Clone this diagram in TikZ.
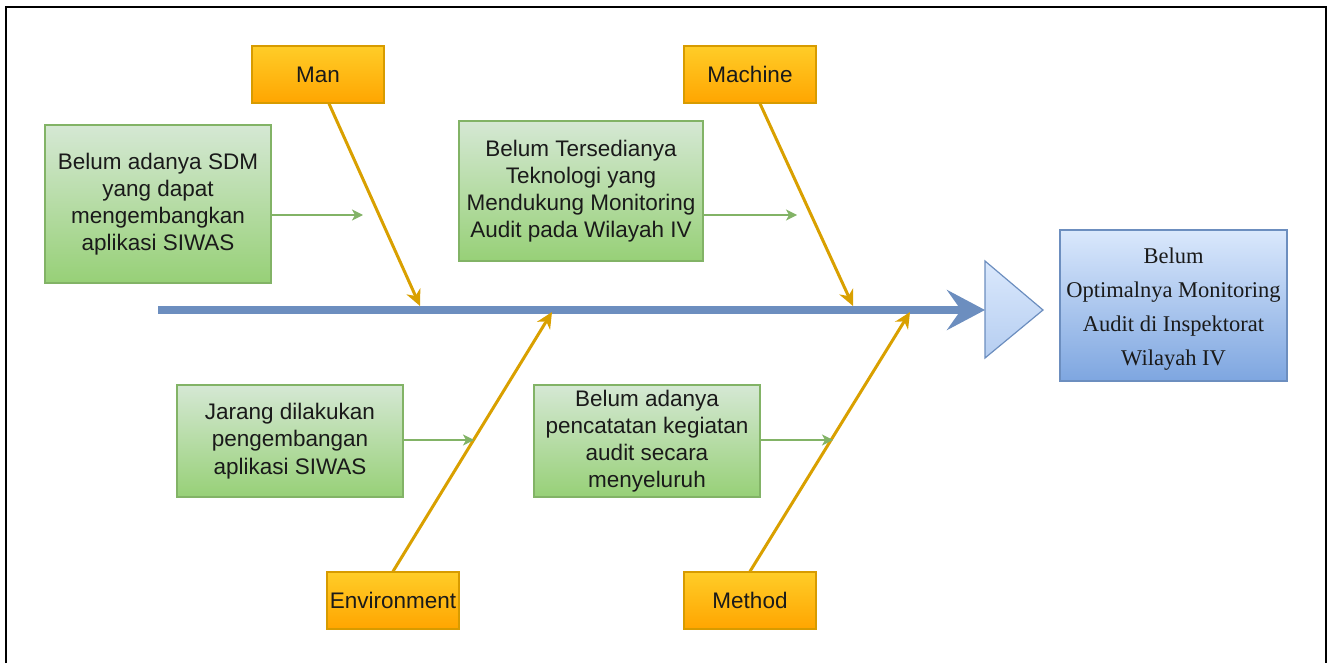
\documentclass[tikz,border=0pt]{standalone}
\usepackage{fontspec}
\setmainfont{Liberation Sans}
\newfontfamily\resultfont{Liberation Serif}
\usetikzlibrary{arrows.meta}
\definecolor{catTop}{HTML}{FFCD28}
\definecolor{catBot}{HTML}{FFA500}
\definecolor{catBorder}{HTML}{D79B00}
\definecolor{gTop}{HTML}{D5E8D4}
\definecolor{gBot}{HTML}{97D077}
\definecolor{gBorder}{HTML}{82B366}
\definecolor{bTop}{HTML}{DAE8FC}
\definecolor{bBot}{HTML}{7EA6E0}
\definecolor{bBorder}{HTML}{6C8EBF}
\definecolor{boneCol}{HTML}{D9A000}
\definecolor{txt}{HTML}{1A1A1A}
\tikzset{
  catbox/.style={draw=catBorder, line width=0.6pt, top color=catTop, bottom color=catBot,
    minimum width=66pt, minimum height=28.5pt, inner sep=0pt, text=txt,
    font=\fontsize{11.25pt}{13.6pt}\selectfont},
  causebox/.style={draw=gBorder, line width=0.6pt, top color=gTop, bottom color=gBot,
    align=center, inner sep=0pt, text=txt, font=\fontsize{11.25pt}{13.6pt}\selectfont},
  effectbox/.style={draw=bBorder, line width=0.6pt, top color=bTop, bottom color=bBot,
    inner sep=0pt},
  effecttext/.style={align=center, inner sep=0pt, text=txt,
    font=\resultfont\fontsize{11.25pt}{17pt}\selectfont},
  bone/.style={draw=boneCol, line width=1.5pt, -{Stealth[length=8pt,width=7.5pt,inset=2.5pt]}},
  causearrow/.style={draw=gBorder, line width=0.8pt, -{Stealth[length=5.5pt,width=5.5pt,inset=1.5pt]}},
  spine/.style={draw=bBorder, line width=4pt, -{Stealth[length=19pt,width=20pt,inset=7pt]}}
}
\begin{document}
\begin{tikzpicture}[x=0.5pt,y=-0.5pt]
\useasboundingbox (0,0) rectangle (1331,663);
% frame
\draw[line width=1pt] (6,663) -- (6,7) -- (1326,7) -- (1326,663);

% category boxes
\node[catbox] (man) at (318,74.5) {Man};
\node[catbox] (machine) at (750,74.5) {Machine};
\node[catbox] (env) at (393,600.5) {Environment};
\node[catbox] (method) at (750,600.5) {Method};

% cause boxes
\node[causebox, minimum width=113pt, minimum height=79pt] (c1) at (158,204)
  {Belum adanya SDM\\yang dapat\\mengembangkan\\aplikasi SIWAS};
\node[causebox, minimum width=122pt, minimum height=70pt] (c2) at (581,191)
  {Belum Tersedianya\\Teknologi yang\\Mendukung Monitoring\\Audit pada Wilayah IV};
\node[causebox, minimum width=113pt, minimum height=56pt] (c3) at (290,441)
  {Jarang dilakukan\\pengembangan\\aplikasi SIWAS};
\node[causebox, minimum width=113pt, minimum height=56pt] (c4) at (647,441)
  {Belum adanya\\pencatatan kegiatan\\audit secara\\menyeluruh};

% effect box
\node[effectbox, minimum width=113.5pt, minimum height=75.5pt] (effect) at (1173.5,305.5) {};
\node[effecttext] (effecttxt) at (1173.5,309.5)
  {Belum\\Optimalnya Monitoring\\Audit di Inspektorat\\Wilayah IV};

% head triangle
\draw[bBorder, line width=0.6pt, top color=bTop, bottom color=bTop!60!bBot]
  (985,261) -- (1043,310) -- (985,358) -- cycle;
\coordinate (head) at (985,310);
\coordinate (tail) at (158,310);

% spine
\draw[spine] (tail) -- (head);

% bone end points
\coordinate (manend) at (420,306);
\coordinate (machend) at (853,306);
\coordinate (envend) at (552,312);
\coordinate (methend) at (910,312);
\draw[bone] ([xshift=5.5pt]man.south) -- (manend);
\draw[bone] ([xshift=5pt]machine.south) -- (machend);
\draw[bone] (env.north) -- (envend);
\draw[bone] (method.north) -- (methend);

% cause arrows
\coordinate (c1end) at (363,215);
\coordinate (c2end) at (797,215);
\coordinate (c3end) at (474,440);
\coordinate (c4end) at (833,440);
\draw[causearrow] ([yshift=-5.5pt]c1.east) -- (c1end);
\draw[causearrow] ([yshift=-12pt]c2.east) -- (c2end);
\draw[causearrow] ([yshift=0.5pt]c3.east) -- (c3end);
\draw[causearrow] ([yshift=0.5pt]c4.east) -- (c4end);
\end{tikzpicture}
\end{document}
